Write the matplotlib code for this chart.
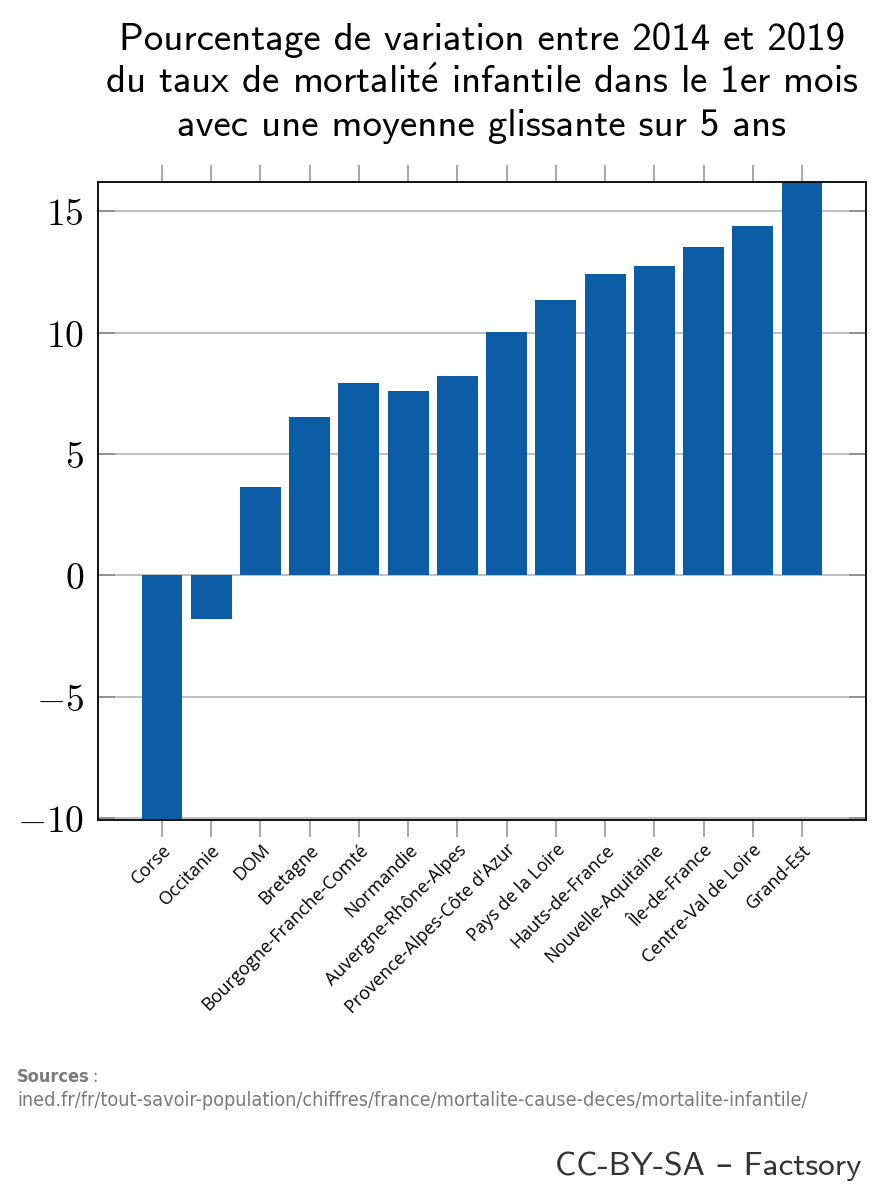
import numpy as np
import matplotlib
matplotlib.use("Agg")
import matplotlib.pyplot as plt

plt.rcParams['mathtext.fontset'] = 'cm'

# data (Corse and Grand-Est run past the axis limits)
regions = ['Corse', 'Occitanie', 'DOM', 'Bretagne', 'Bourgogne-Franche-Comté',
           'Normandie', 'Auvergne-Rhône-Alpes', "Provence-Alpes-Côte d'Azur",
           'Pays de la Loire', 'Hauts-de-France', 'Nouvelle-Aquitaine',
           'Île-de-France', 'Centre-Val de Loire', 'Grand-Est']
variation = [-11.5, -1.8, 3.62, 6.5, 7.94, 7.61, 8.19, 10.04,
             11.32, 12.43, 12.76, 13.54, 14.4, 17.0]
yticks = [-10, -5, 0, 5, 10, 15]

# cmss10 has no é, so that one letter goes through mathtext
title_lines = ["Pourcentage de variation entre 2014 et 2019",
               r"du taux de mortalit$\acute{\mathsf{e}}$ infantile dans le 1er mois",
               "avec une moyenne glissante sur 5 ans"]
title_base = [50, 93, 136]

fig = plt.figure(figsize=(8.79, 12), dpi=100)
ax = fig.add_axes([98/879, 1 - 820/1200, 768/879, 638/1200])

x = np.arange(len(regions))
ax.bar(x, variation, width=0.83, color='#0c5da5', zorder=2)

ax.set_xlim(-1.3, len(regions) - 1 + 1.3)
ax.set_ylim(-10.08, 16.2)

ax.set_yticks(yticks)
ax.set_yticklabels([f'${v}$' for v in yticks], fontsize=27)
ax.grid(axis='y', color='#b4b4b4', linewidth=1.2, zorder=0)

ax.set_xticks(x)
ax.set_xticklabels(regions, rotation=45, ha='right', rotation_mode='anchor',
                   fontsize=13, family=['Open Sans', 'DejaVu Sans'])

ax.tick_params(axis='y', direction='in', left=True, right=True, length=12,
               width=1.2, color='#8a8a8a', pad=10)
ax.tick_params(axis='x', direction='out', bottom=True, top=True, length=12,
               width=1.2, color='#9a9a9a', pad=3)
for s in ax.spines.values():
    s.set_linewidth(1.4)
    s.set_color('#111111')
    s.set_zorder(3)

for line, yb in zip(title_lines, title_base):
    fig.text(482/879, 1 - yb/1200, line, ha='center', va='baseline', fontsize=28,
             family='cmss10', math_fontfamily='cm')

src_font = dict(color='#7a7a7a', family=['DejaVu Sans'], stretch='condensed')
fig.text(17/879, 1 - 1077/1200, 'Sources', ha='left', va='center', fontsize=13,
         weight='bold', **src_font)
fig.text(92/879, 1 - 1077/1200, ':', ha='left', va='center', fontsize=13, **src_font)
fig.text(17/879, 1 - 1100/1200,
         'ined.fr/fr/tout-savoir-population/chiffres/france/mortalite-cause-deces/mortalite-infantile/',
         ha='left', va='center', fontsize=14.2, **src_font)

fig.text(862/879, 1 - 1166/1200, 'CC-BY-SA – Factsory', ha='right', va='center',
         fontsize=24, color='#333333', family=['cmss10', 'DejaVu Sans'])

fig.savefig('out.png', dpi=100)
